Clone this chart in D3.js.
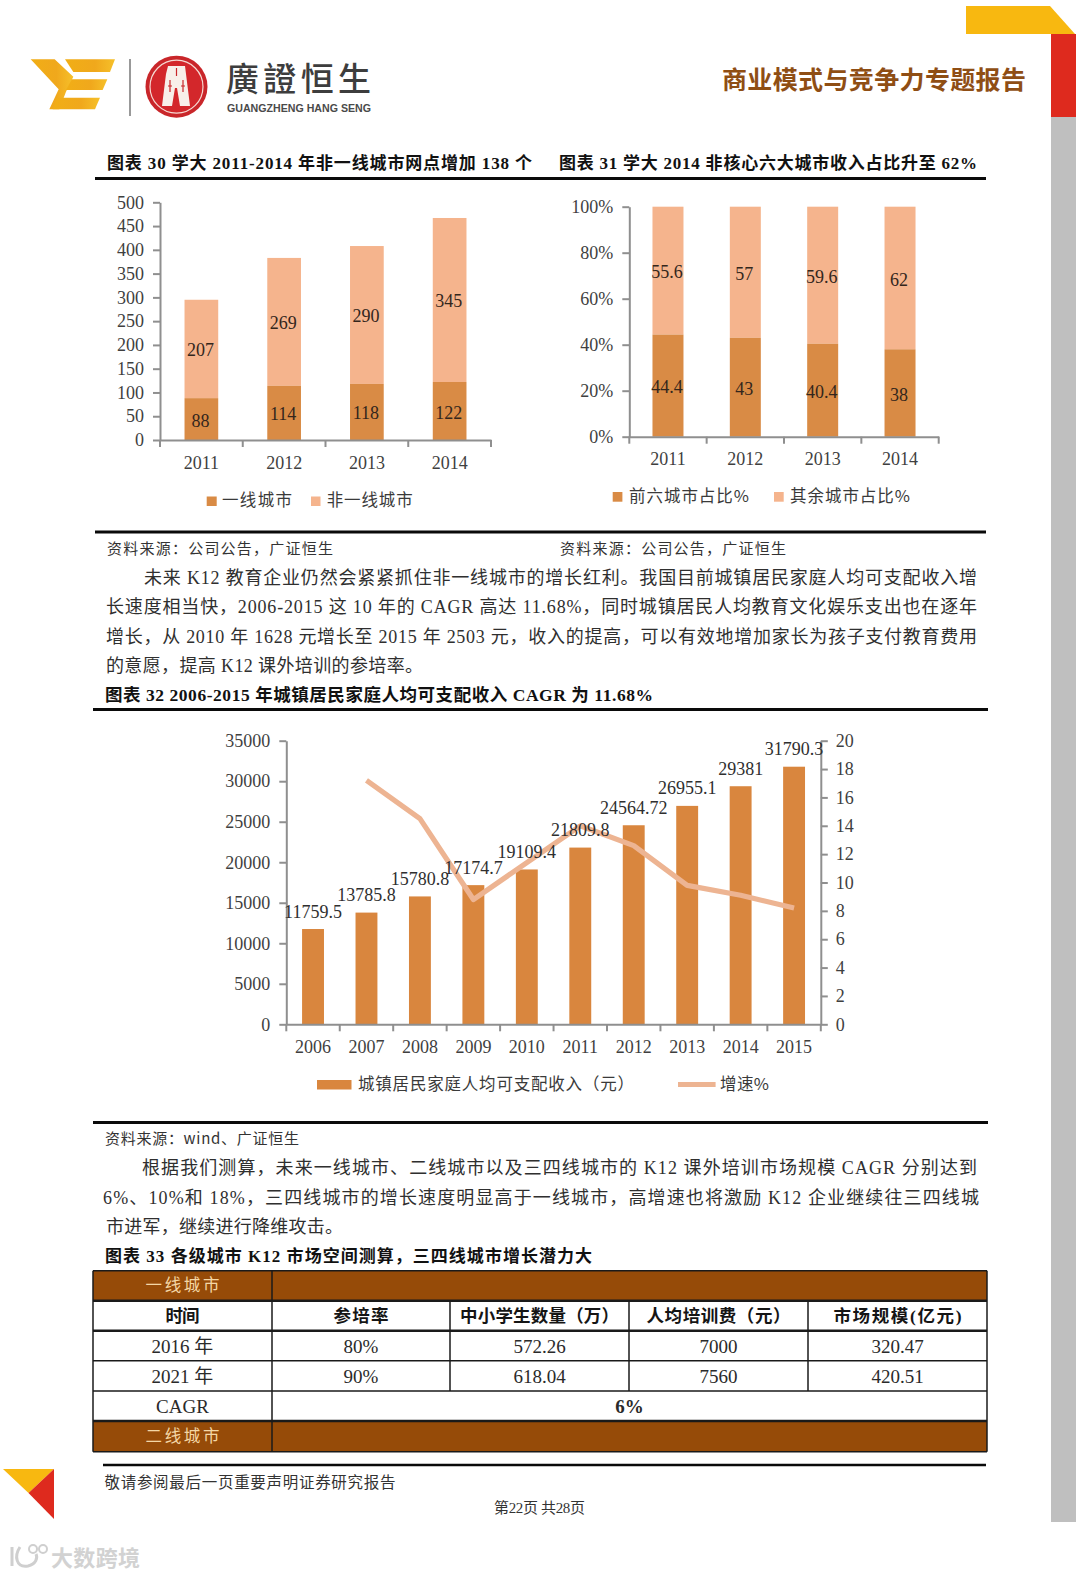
<!DOCTYPE html>
<html><head><meta charset="utf-8">
<script src="https://cdn.jsdelivr.net/npm/d3@7/dist/d3.min.js"></script>
<style>html,body{margin:0;padding:0;background:#fff}svg{display:block}</style>
</head><body><svg id="page" width="1080" height="1578"></svg>
<script>
// ---- data ----
const years1 = ["2011","2012","2013","2014"];
const tierOne = [88,114,118,122];
const nonTierOne = [207,269,290,345];
const ticks1 = [0,50,100,150,200,250,300,350,400,450,500];
const legend1 = ["一线城市","非一线城市"];

const years2 = ["2011","2012","2013","2014"];
const topSix = [44.4,43,40.4,38];
const others = [55.6,57,59.6,62];
const ticks2 = [0,20,40,60,80,100];
const legend2 = ["前六城市占比%","其余城市占比%"];

const years3 = ["2006","2007","2008","2009","2010","2011","2012","2013","2014","2015"];
const income = [11759.5,13785.8,15780.8,17174.7,19109.4,21809.8,24564.72,26955.1,29381,31790.3];
const incomeLabels = ["11759.5","13785.8","15780.8","17174.7","19109.4","21809.8","24564.72","26955.1","29381","31790.3"];
const growth = [null,17.2,14.5,8.8,11.4,14.0,12.6,9.8,9.1,8.2];
const ticks3L = [0,5000,10000,15000,20000,25000,30000,35000];
const ticks3R = [0,2,4,6,8,10,12,14,16,18,20];
const legend3 = ["城镇居民家庭人均可支配收入（元）","增速%"];

const tableHeader = ["时间","参培率","中小学生数量（万）","人均培训费（元）","市场规模(亿元)"];
const tableRows = [["2016 年","80%","572.26","7000","320.47"],["2021 年","90%","618.04","7560","420.51"]];

const para1 = [
 "未来 K12 教育企业仍然会紧紧抓住非一线城市的增长红利。我国目前城镇居民家庭人均可支配收入增",
 "长速度相当快，2006-2015 这 10 年的 CAGR 高达 11.68%，同时城镇居民人均教育文化娱乐支出也在逐年",
 "增长，从 2010 年 1628 元增长至 2015 年 2503 元，收入的提高，可以有效地增加家长为孩子支付教育费用",
 "的意愿，提高 K12 课外培训的参培率。"];
const para2 = [
 "根据我们测算，未来一线城市、二线城市以及三四线城市的 K12 课外培训市场规模 CAGR 分别达到",
 "6%、10%和 18%，三四线城市的增长速度明显高于一线城市，高增速也将激励 K12 企业继续往三四线城",
 "市进军，继续进行降维攻击。"];

// ---- style ----
const SERIF = '"Liberation Serif","Noto Sans CJK SC",serif';
const SANS = '"Noto Sans CJK SC","Noto Sans",sans-serif';
const DARK = "#d98b45", LIGHT = "#f5b48d", LINE = "#edb492", AXIS = "#8f8f8f", INK = "#3f3f3f", BROWN = "#964b08";
const svg = d3.select("#page");

function txt(s, x, y, o = {}) {
  const fam = o.family || SERIF;
  const t = svg.append("text").text(s).attr("x", x).attr("y", fam === SANS ? y - 1.7 : y)
    .attr("dominant-baseline", "central")
    .attr("font-family", fam).attr("font-size", o.size || 17)
    .attr("font-weight", o.weight || 400).attr("fill", o.fill || "#2b2b2b")
    .attr("text-anchor", o.anchor || "start");
  if (o.width) t.attr("textLength", o.width).attr("lengthAdjust", o.adjust || "spacing");
  return t;
}
function rule(x1, x2, y, w = 3, c = "#0a0a0a") {
  svg.append("line").attr("x1", x1).attr("x2", x2).attr("y1", y).attr("y2", y).attr("stroke", c).attr("stroke-width", w);
}

// ---- page furniture ----
svg.append("polygon").attr("points", "966,6 1050,6 1075,34 966,34").attr("fill", "#f8b810");
svg.append("rect").attr("x", 1051).attr("y", 34).attr("width", 25).attr("height", 83).attr("fill", "#de2a1e");
svg.append("rect").attr("x", 1051).attr("y", 117).attr("width", 25).attr("height", 1405).attr("fill", "#bfbfbf");

const defs = svg.append("defs");
const g = defs.append("linearGradient").attr("id", "gold").attr("x1", "0").attr("x2", "1").attr("y1", "0").attr("y2", "0");
g.append("stop").attr("offset", "0").attr("stop-color", "#f1ae16");
g.append("stop").attr("offset", "0.6").attr("stop-color", "#f0a81c");
g.append("stop").attr("offset", "1").attr("stop-color", "#f6c02a");
const logo = svg.append("g").attr("transform", "translate(20,50) scale(0.3333)");
["32,28 104,28 160,80 138,125 118,178 88,178 116,118", "135,28 285,28 270,66 160,66",
 "155,88 262,88 248,120 138,120", "112,143 240,143 225,178 98,178"]
 .forEach(p => logo.append("polygon").attr("points", p).attr("fill", "url(#gold)"));
svg.append("line").attr("x1", 130).attr("x2", 130).attr("y1", 59).attr("y2", 116).attr("stroke", "#777").attr("stroke-width", 1.5);
svg.append("circle").attr("cx", 176.5).attr("cy", 86.7).attr("r", 31).attr("fill", "#c9262a");
svg.append("circle").attr("cx", 176.5).attr("cy", 86.7).attr("r", 26.5).attr("fill", "#d3272b").attr("stroke", "#f6d9d2").attr("stroke-width", 1.2);
svg.append("path").attr("d", "M168,66 L185,66 L186,74 L190,106 L180,106 L177,88 L175,88 L172,106 L162,106 L166,74 Z").attr("fill", "#f8efe9");
svg.append("path").attr("d", "M176.5,68 V76 M170,80 V92 M183,80 V92 M168,86 H172 M181,86 H185").attr("stroke", "#c9262a").attr("stroke-width", 1.2).attr("fill", "none");
txt("廣證恒生", 226, 78.7, {family: SANS, size: 33, weight: 500, fill: "#3d3d3d", width: 145});
txt("GUANGZHENG HANG SENG", 227, 107.5, {family: '"Liberation Sans",sans-serif', size: 11.5, weight: 700, fill: "#4a4a4a", width: 144, adjust: "spacingAndGlyphs"});
txt("商业模式与竞争力专题报告", 722, 79.5, {family: SANS, size: 25, weight: 700, fill: "#8f4e14", width: 304});

// ---- headings ----
txt("图表 30 学大 2011-2014 年非一线城市网点增加 138 个", 107, 163, {weight: 700, size: 17, fill: "#111", width: 425});
txt("图表 31 学大 2014 非核心六大城市收入占比升至 62%", 559, 163, {weight: 700, size: 17, fill: "#111", width: 418});
rule(95, 986, 178.5);

// ---- generic axis helpers ----
function styleAxis(sel, size) {
  sel.selectAll("path,line").attr("stroke", AXIS).attr("stroke-width", 2);
  sel.selectAll("text").attr("font-family", SERIF).attr("font-size", size).attr("fill", INK);
}
function bandAxis(x, y0, cats, size, labelGap) {
  const a = svg.append("g").attr("transform", `translate(0,${y0})`)
    .call(d3.axisBottom(x).tickSize(0).tickPadding(labelGap));
  styleAxis(a, size);
  a.selectAll("g.boundary").data(d3.range(cats.length + 1)).enter().append("line")
    .attr("x1", i => x.range()[0] + i * x.step()).attr("x2", i => x.range()[0] + i * x.step())
    .attr("y1", 0).attr("y2", 7).attr("stroke", AXIS).attr("stroke-width", 2);
  return a;
}
function leftAxis(y, x0, ticks, fmt, size) {
  const a = svg.append("g").attr("transform", `translate(${x0},0)`)
    .call(d3.axisLeft(y).tickValues(ticks).tickFormat(fmt).tickSize(7).tickSizeOuter(0).tickPadding(9));
  styleAxis(a, size);
}
function stacked(x, y, cats, lower, upper, bw, lowerFill, upperFill) {
  const off = (x.bandwidth() - bw) / 2;
  cats.forEach((c, i) => {
    svg.append("rect").attr("x", x(c) + off).attr("width", bw).attr("y", y(lower[i] + upper[i]))
      .attr("height", y(lower[i]) - y(lower[i] + upper[i])).attr("fill", upperFill);
    svg.append("rect").attr("x", x(c) + off).attr("width", bw).attr("y", y(lower[i]))
      .attr("height", y(0) - y(lower[i])).attr("fill", lowerFill);
    txt(String(lower[i]), x(c) + x.bandwidth() / 2 - 1, y(lower[i] / 2) + 1.5, {anchor: "middle", size: 18, fill: "#33261c"});
    txt(String(upper[i]), x(c) + x.bandwidth() / 2 - 1, y(lower[i] + upper[i] / 2) + 1.5, {anchor: "middle", size: 18, fill: "#33261c"});
  });
}

// ---- chart 30 ----
{
  const x = d3.scaleBand().domain(years1).range([160, 491]).paddingInner(0).paddingOuter(0);
  const y = d3.scaleLinear().domain([0, 500]).range([440, 202.3]);
  stacked(x, y, years1, tierOne, nonTierOne, 33.7, DARK, LIGHT);
  leftAxis(y, 160, ticks1, d => d, 18);
  bandAxis(x, 440, years1, 18, 16);
  svg.append("rect").attr("x", 206.7).attr("y", 496.5).attr("width", 10).attr("height", 9.5).attr("fill", DARK);
  txt(legend1[0], 222, 501, {family: SANS, size: 16.5, fill: "#3a3a3a", width: 70});
  svg.append("rect").attr("x", 311).attr("y", 496.5).attr("width", 9.5).attr("height", 9.5).attr("fill", LIGHT);
  txt(legend1[1], 326.7, 501, {family: SANS, size: 16.5, fill: "#3a3a3a", width: 86});
}

// ---- chart 31 ----
{
  const x = d3.scaleBand().domain(years2).range([629.3, 938.7]).paddingInner(0).paddingOuter(0);
  const y = d3.scaleLinear().domain([0, 100]).range([436.7, 206.7]);
  stacked(x, y, years2, topSix, others, 31, DARK, LIGHT);
  leftAxis(y, 629.3, ticks2, d => d + "%", 18);
  bandAxis(x, 436.7, years2, 18, 16);
  svg.append("rect").attr("x", 612.7).attr("y", 492).attr("width", 9.7).attr("height", 9.7).attr("fill", DARK);
  txt(legend2[0], 629, 497, {family: SANS, size: 16.5, fill: "#3a3a3a", width: 120});
  svg.append("rect").attr("x", 774).attr("y", 492).attr("width", 9.7).attr("height", 9.7).attr("fill", LIGHT);
  txt(legend2[1], 790, 497, {family: SANS, size: 16.5, fill: "#3a3a3a", width: 120});
}

rule(95, 986, 532);
txt("资料来源：公司公告，广证恒生", 107, 549, {family: SANS, size: 15, fill: "#333", width: 226});
txt("资料来源：公司公告，广证恒生", 560, 549, {family: SANS, size: 15, fill: "#333", width: 226});

// ---- body text ----
const paraY1 = [578, 607, 636.7, 666], paraX1 = [144, 106, 106, 106], paraW1 = [833, 871, 871, 317];
para1.forEach((s, i) => txt(s, paraX1[i], paraY1[i], {family: SERIF, size: 18, fill: "#2f2f2f", width: paraW1[i]}));
txt("图表 32 2006-2015 年城镇居民家庭人均可支配收入 CAGR 为 11.68%", 105, 695, {weight: 700, size: 17.5, fill: "#111", width: 548});
rule(93, 988, 709.5);

// ---- chart 32 ----
{
  const x = d3.scaleBand().domain(years3).range([286.3, 820.8]);
  const y = d3.scaleLinear().domain([0, 35000]).range([1024.3, 740.7]);
  const yR = d3.scaleLinear().domain([0, 20]).range([1024.3, 740.7]);
  const bw = 21.9, off = (x.bandwidth() - bw) / 2;
  svg.append("g").selectAll("rect").data(income).enter().append("rect")
    .attr("x", (d, i) => x(years3[i]) + off).attr("width", bw)
    .attr("y", d => y(d)).attr("height", d => y(0) - y(d)).attr("fill", "#d9863e");
  const ln = d3.line().defined(d => d.v !== null)
    .x(d => x(d.c) + x.bandwidth() / 2).y(d => yR(d.v));
  svg.append("path").attr("d", ln(years3.map((c, i) => ({c, v: growth[i]}))))
    .attr("fill", "none").attr("stroke", LINE).attr("stroke-width", 5.2).attr("stroke-linejoin", "round");
  leftAxis(y, 286.3, ticks3L, d => d, 18);
  const r = svg.append("g").attr("transform", "translate(820.8,0)")
    .call(d3.axisRight(yR).tickValues(ticks3R).tickSize(7).tickSizeOuter(0).tickPadding(8));
  styleAxis(r, 18);
  bandAxis(x, 1024.3, years3, 18, 16);
  incomeLabels.forEach((s, i) => txt(s, x(years3[i]) + x.bandwidth() / 2, y(income[i]) - 17.5, {anchor: "middle", size: 18, fill: "#2f2f2f"}));
  svg.append("rect").attr("x", 317).attr("y", 1080).attr("width", 34.5).attr("height", 9.5).attr("fill", "#d9863e");
  txt(legend3[0], 358, 1085, {family: SANS, size: 16.5, fill: "#3a3a3a", width: 276});
  svg.append("line").attr("x1", 678).attr("x2", 715.6).attr("y1", 1084.5).attr("y2", 1084.5).attr("stroke", LINE).attr("stroke-width", 5);
  txt(legend3[1], 720, 1085, {family: SANS, size: 16.5, fill: "#3a3a3a", width: 49});
}

rule(93, 988, 1122.5);
txt("资料来源：wind、广证恒生", 105, 1139.5, {family: SANS, size: 15, fill: "#333", width: 194});
const paraY2 = [1168.2, 1197.5, 1227], paraX2 = [142, 103, 106], paraW2 = [835, 876, 237];
para2.forEach((s, i) => txt(s, paraX2[i], paraY2[i], {family: SERIF, size: 18, fill: "#2f2f2f", width: paraW2[i]}));
txt("图表 33 各级城市 K12 市场空间测算，三四线城市增长潜力大", 105, 1256, {weight: 700, size: 17, fill: "#111", width: 487});

// ---- table ----
{
  const xs = [93, 272, 450, 629, 808, 987];
  const ys = [1270.7, 1300.7, 1330.7, 1360.7, 1391, 1421, 1451.7];
  const headerW = [34, 55, 159, 144, 128];
  [0, 5].forEach(r => svg.append("rect").attr("x", xs[0]).attr("y", ys[r]).attr("width", xs[5] - xs[0]).attr("height", ys[r + 1] - ys[r]).attr("fill", BROWN));
  const cx = i => (xs[i] + xs[i + 1]) / 2, cy = r => (ys[r] + ys[r + 1]) / 2;
  txt("一线城市", cx(0), cy(0), {family: SANS, size: 16.5, fill: "#f4d7a6", anchor: "middle", width: 74});
  txt("二线城市", cx(0), cy(5), {family: SANS, size: 16.5, fill: "#f4d7a6", anchor: "middle", width: 74});
  tableHeader.forEach((s, i) => txt(s, cx(i), cy(1), {family: SERIF, size: 17.5, weight: 700, fill: "#151515", anchor: "middle", width: headerW[i]}));
  tableRows.forEach((row, r) => row.forEach((s, i) => txt(s, cx(i), cy(r + 2) + 1, {size: 19, fill: "#2a2a2a", anchor: "middle"})));
  txt("CAGR", cx(0), cy(4), {size: 19, fill: "#2a2a2a", anchor: "middle"});
  txt("6%", (xs[1] + xs[5]) / 2, cy(4), {size: 19, weight: 700, fill: "#2a2a2a", anchor: "middle"});
  ys.forEach((v, i) => rule(xs[0], xs[5], v, (i === 1 || i === 2 || i === 5) ? 2.5 : 1.6, "#1a1a1a"));
  const vline = (x, y1, y2) => svg.append("line").attr("x1", x).attr("x2", x).attr("y1", y1).attr("y2", y2).attr("stroke", "#1a1a1a").attr("stroke-width", 1.5);
  vline(xs[0], ys[0], ys[6]); vline(xs[5], ys[0], ys[6]); vline(xs[1], ys[0], ys[6]);
  [2, 3, 4].forEach(i => vline(xs[i], ys[1], ys[4]));
}

// ---- footer ----
rule(103, 986, 1465, 2.5);
svg.append("polygon").attr("points", "3,1469 54,1469 28.5,1493").attr("fill", "#f8b810");
svg.append("polygon").attr("points", "54,1469 28.5,1493 54,1519").attr("fill", "#de2a1e");
txt("敬请参阅最后一页重要声明证券研究报告", 104.5, 1483, {family: SANS, size: 15.5, fill: "#333", width: 291});
txt("第22页 共28页", 494, 1508, {size: 15, fill: "#333", width: 91});
svg.append("path").attr("d", "M12,1547 V1566 M20,1547 C14,1556 16,1568 28,1566 C36,1564 38,1558 36,1554")
  .attr("fill", "none").attr("stroke", "#cfcfcf").attr("stroke-width", 3);
svg.append("circle").attr("cx", 33).attr("cy", 1549).attr("r", 4).attr("fill", "none").attr("stroke", "#cfcfcf").attr("stroke-width", 2);
svg.append("circle").attr("cx", 43).attr("cy", 1549).attr("r", 4).attr("fill", "none").attr("stroke", "#cfcfcf").attr("stroke-width", 2);
txt("大数跨境", 51, 1558, {family: SANS, size: 22, weight: 700, fill: "#d2d2d2", width: 89});
</script></body></html>
